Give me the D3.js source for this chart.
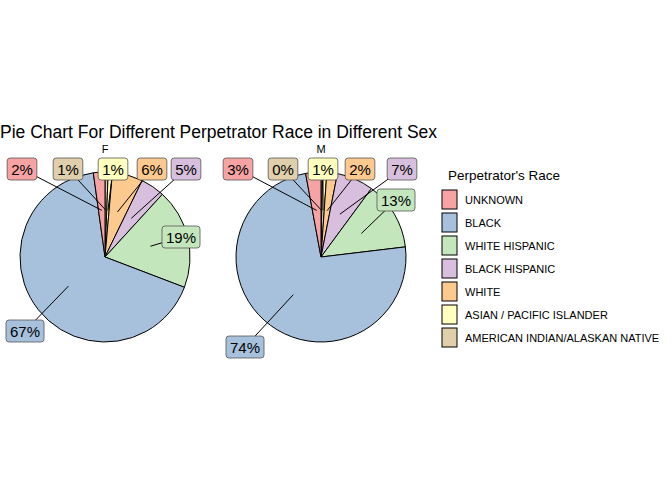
<!DOCTYPE html>
<html><head><meta charset="utf-8">
<script src="https://cdn.jsdelivr.net/npm/d3@7"></script>
<style>body{margin:0;background:#fff}svg{font-family:"Liberation Sans",Arial,sans-serif}</style>
</head><body>
<svg id="c" width="672" height="480"></svg>
<script>
// legend order
const races = ['UNKNOWN', 'BLACK', 'WHITE HISPANIC', 'BLACK HISPANIC', 'WHITE', 'ASIAN / PACIFIC ISLANDER', 'AMERICAN INDIAN/ALASKAN NATIVE']
const colors = ['#f7a3a3', '#a7c1dc', '#c3e6bd', '#d8bfdd', '#fcc98f', '#ffffbf', '#dfcfaa']
const sexes = ['F', 'M']
// percent shares, same order as races
const femaleShare = [2.2, 67.0, 19.0, 4.6, 5.8, 0.8, 0.6]
const maleShare = [2.9, 74.0, 13.0, 7.0, 2.0, 0.8, 0.3]
const labelsF = ['2%', '67%', '19%', '5%', '6%', '1%', '1%']
const labelsM = ['3%', '74%', '13%', '7%', '2%', '1%', '0%']

// label box placement (repelled layout), relative to pie centre
const labelOffF = [[-83, -88], [-80, 74], [76, -20], [81, -88], [47, -88], [8, -88], [-37, -88]]
const labelOffM = [[-83, -88], [-76, 90], [75, -57], [81, -88], [39, -88], [2, -88], [-38, -88]]

const svg = d3.select('#c')
svg.append('text').attr('x', 0).attr('y', 138).attr('font-size', 17.5).text('Pie Chart For Different Perpetrator Race in Different Sex')

const color = d3.scaleOrdinal().domain(races).range(colors)
const panels = [
  { sex: 'F', vals: femaleShare, labels: labelsF, off: labelOffF, cx: 105 },
  { sex: 'M', vals: maleShare, labels: labelsM, off: labelOffM, cx: 321 }
]
const cy = 257, r = 85

// clockwise from 12 o'clock in reverse legend order
const pie = d3.pie().sort(null).value(d => d.v)

panels.forEach(p => {
  const data = races.map((k, i) => ({ k, v: p.vals[i], lab: p.labels[i], off: p.off[i] })).reverse()
  const arcs = pie(data)
  const g = svg.append('g').attr('transform', `translate(${p.cx},${cy})`)
  svg.append('text').attr('x', p.cx).attr('y', 153).attr('text-anchor', 'middle').attr('font-size', 11).text(p.sex)
  const arc = d3.arc().innerRadius(0).outerRadius(r)
  g.selectAll('path').data(arcs).join('path')
    .attr('d', arc).attr('fill', d => color(d.data.k)).attr('stroke', '#000').attr('stroke-width', 1)
  const inner = d3.arc().innerRadius(r * 0.55).outerRadius(r * 0.55)
  arcs.forEach(a => {
    const [ax, ay] = inner.centroid(a)
    const [lx, ly] = a.data.off
    g.append('line').attr('x1', ax).attr('y1', ay).attr('x2', lx).attr('y2', ly).attr('stroke', '#000')
  })
  arcs.forEach(a => {
    const [lx, ly] = a.data.off
    const t = g.append('text').attr('x', lx).attr('y', ly + 5.5).attr('text-anchor', 'middle').attr('font-size', 15).text(a.data.lab)
    const w = t.node().getComputedTextLength() + 8
    g.insert('rect', () => t.node()).attr('x', lx - w / 2).attr('y', ly - 11).attr('width', w).attr('height', 22)
      .attr('rx', 3).attr('fill', color(a.data.k)).attr('stroke', '#555').attr('stroke-width', 0.8)
  })
})

// legend
const lg = svg.append('g').attr('transform', 'translate(440,175)')
lg.append('text').attr('x', 8).attr('y', 5).attr('font-size', 13.5).text("Perpetrator's Race")
const ly = d3.scaleBand().domain(races).range([13, 174])
races.forEach(k => {
  lg.append('rect').attr('x', 2).attr('y', ly(k) + 2).attr('width', 15).attr('height', 19)
    .attr('fill', color(k)).attr('stroke', '#000')
  lg.append('text').attr('x', 25).attr('y', ly(k) + 15.5).attr('font-size', 11).text(k)
})
</script>
</body></html>
